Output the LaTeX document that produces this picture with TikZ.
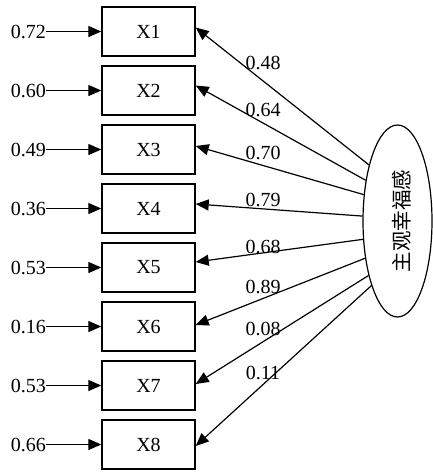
\documentclass[tikz,border=0pt]{standalone}
\usepackage{fontspec}
\setmainfont{Liberation Serif}
\newfontfamily\cjk{Noto Sans CJK SC}
\usetikzlibrary{shapes.geometric,arrows.meta}
\begin{document}
\begin{tikzpicture}[x=1pt,y=-1pt,
  obs/.style={draw,line width=1.4pt,minimum width=93pt,minimum height=49pt,inner sep=0pt,font=\fontsize{20}{20}\selectfont},
  lbl/.style={font=\fontsize{20}{20}\selectfont,inner sep=0pt},
  arr/.style={line width=1.2pt,-{Triangle[length=13pt,width=11pt]}}]
\useasboundingbox (0,0) rectangle (433,472);
\foreach \i/\e in {1/0.72,2/0.60,3/0.49,4/0.36,5/0.53,6/0.16,7/0.53,8/0.66}{
  \node[obs] (X\i) at (148.5,{31.5+59*(\i-1)}) {X\i};
  \node[lbl,anchor=east] (e\i) at (46,{31.5+59*(\i-1)}) {\e};
  \draw[arr] (e\i.east) -- (X\i.west);
}
\node[draw,line width=1.2pt,ellipse,minimum width=69pt,minimum height=192pt,inner sep=0pt] (F) at (397.5,221) {};
\node[rotate=90,font=\cjk\fontsize{20.5}{20.5}\selectfont,inner sep=0pt] (FT) at (402,221) {主观幸福感};
\draw[arr] (F.117) -- ([yshift=4pt]X1.east);
\draw[arr] (F.128) -- ([yshift=5pt]X2.east);
\draw[arr] (F.142) -- ([yshift=3.5pt]X3.east);
\draw[arr] (F.172) -- ([yshift=4.5pt]X4.east);
\draw[arr] (F.208) -- ([yshift=5.5pt]X5.east);
\draw[arr] (F.229) -- ([yshift=1.5pt]X6.east);
\draw[arr] (F.242) -- ([yshift=1.5pt]X7.east);
\draw[arr] (F.248) -- ([yshift=-1.5pt]X8.east);
\foreach \n/\t/\y in {l1/0.48/63,l2/0.64/110,l3/0.70/153,l4/0.79/200,l5/0.68/247,l6/0.89/287,l7/0.08/329,l8/0.11/373}{
  \node[lbl] (\n) at (263,\y) {\t};
}
\end{tikzpicture}
\end{document}
